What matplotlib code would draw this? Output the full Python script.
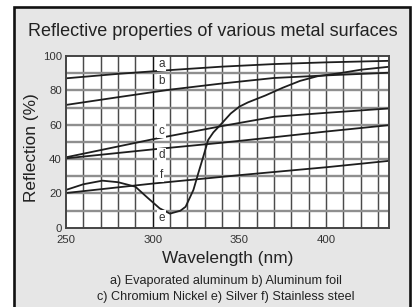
import matplotlib
matplotlib.use("Agg")
import matplotlib.pyplot as plt
from matplotlib.patches import Rectangle
import numpy as np

plt.rcParams["font.family"] = ["Liberation Sans", "DejaVu Sans"]

# datos (longitud de onda en nm, reflexion en %)
wl_a = [250, 280, 310, 340, 370, 400, 437]
ref_a = [87.0, 89.6, 91.8, 93.8, 95.3, 96.3, 97.2]

wl_b = [250, 280, 310, 340, 370, 400, 437]
ref_b = [71.5, 76.0, 80.4, 84.0, 87.2, 88.7, 90.3]

wl_c = [250, 300, 340, 370, 400, 437]
ref_c = [41.0, 51.5, 59.2, 64.6, 66.9, 69.5]

wl_d = [250, 300, 340, 370, 400, 437]
ref_d = [40.4, 45.6, 49.5, 52.7, 56.0, 59.8]

wl_e = [250, 260, 271, 280, 290, 297, 304, 310, 316, 319, 323.5, 326.3,
        329.2, 332, 335, 339, 345, 350, 355, 365, 375, 385, 395, 408, 420, 437]
ref_e = [22.0, 25.3, 27.4, 26.5, 23.9, 17.5, 11.3, 8.2, 9.9, 12.2, 22.0, 31.7,
         41.4, 51.1, 55.5, 59.8, 66.5, 70.5, 73.0, 77.0, 81.5, 85.5, 88.2, 90.0, 92.0, 93.8]

wl_f = [250, 300, 350, 400, 437]
ref_f = [20.2, 25.7, 30.6, 35.2, 39.0]

series = [("a", wl_a, ref_a), ("b", wl_b, ref_b), ("c", wl_c, ref_c),
          ("d", wl_d, ref_d), ("e", wl_e, ref_e), ("f", wl_f, ref_f)]

# posicion de las etiquetas de cada curva
lab_names = ["a", "b", "c", "d", "f", "e"]
lab_y = [95.3, 85.3, 56.5, 42.3, 30.7, 5.8]
lab_x = 305

x_ticks = [250, 300, 350, 400]
y_ticks = [0, 20, 40, 60, 80, 100]

title = "Reflective properties of various metal surfaces"
caption = ["a) Evaporated aluminum b) Aluminum foil",
           "c) Chromium Nickel e) Silver f) Stainless steel"]

W, H = 418, 307
fig = plt.figure(figsize=(W / 100, H / 100), dpi=100)
fig.patch.set_facecolor("white")

# marco gris con borde negro
fig.patches.append(Rectangle((14 / W, -0.05), (409.5 - 14) / W, 1.05 - 7 / H,
                             transform=fig.transFigure, facecolor="#e6e6e6",
                             edgecolor="#111111", linewidth=1.9, zorder=-1))

ax = fig.add_axes([66 / W, 1 - 227.7 / H, (389.3 - 66) / W, (227.7 - 56) / H])
ax.set_zorder(2)
ax.set_facecolor("white")
ax.set_xlim(250, 436.5)
ax.set_ylim(0, 100)

# rejilla
for xv in range(260, 437, 10):
    col = "#111111" if xv == 300 else "#4a4a4a"
    ax.axvline(xv, color=col, lw=1.05, zorder=1)
for yv in range(10, 100, 10):
    ax.axhline(yv, color="#8f8f8f", lw=1.7, zorder=1)

for name, xs, ys in series:
    ax.plot(xs, ys, color="#1e1e1e", lw=1.3, zorder=3, solid_joinstyle="round")

for nm, yv in zip(lab_names, lab_y):
    ax.text(lab_x, yv, nm, fontsize=8.5, color="#333333", ha="center", va="center",
            zorder=4, bbox=dict(facecolor="white", edgecolor="none", pad=1.0))

ax.set_xticks(x_ticks)
ax.set_yticks(y_ticks)
ax.tick_params(axis="both", length=0, labelsize=8.2, colors="#333333")
ax.tick_params(axis="x", pad=5.5)
ax.tick_params(axis="y", pad=3)
for s in ax.spines.values():
    s.set_color("#444444")
    s.set_linewidth(1.4)
    s.set_zorder(5)

ax.set_xlabel("Wavelength (nm)", fontsize=12.4, color="#222222", labelpad=4)
ax.set_ylabel("Reflection (%)", fontsize=12.4, color="#222222", labelpad=3)
ax.yaxis.label.set_y(0.465)

fig.text(213 / W, 1 - 32 / H, title, fontsize=13.0, color="#222222",
         ha="center", va="center")
fig.text(226 / W, 1 - 281 / H, caption[0], fontsize=9.1, color="#222222",
         ha="center", va="center")
fig.text(226 / W, 1 - 297 / H, caption[1], fontsize=9.1, color="#222222",
         ha="center", va="center")

fig.savefig("out.png", dpi=100, facecolor=fig.get_facecolor())
